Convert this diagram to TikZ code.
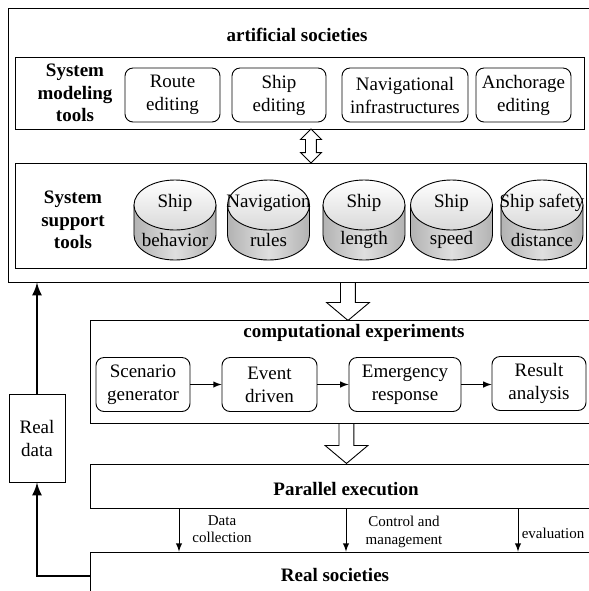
\documentclass[tikz,border=0pt]{standalone}
\usepackage{fontspec}
\setmainfont{Liberation Serif}
\usetikzlibrary{positioning}
\usetikzlibrary{shapes.arrows}

\begin{document}
\begin{tikzpicture}[x = 0.5pt, y = -0.5pt, line width = 0.45pt,
	box/.style = {draw, rectangle, inner sep = 0pt},
	tool/.style = {draw, rounded corners = 4pt, align = center, inner sep = 0pt, minimum height = 27pt, font = \fontsize{9.5}{11.5}\selectfont},
	heading/.style = {font = \fontsize{9.5}{11.25}\selectfont\bfseries, align = center},
	cyltext/.style = {font = \fontsize{9.5}{11.5}\selectfont, inner sep = 0pt},
	small/.style = {font = \fontsize{7.5}{8.75}\selectfont, align = center, inner sep = 0pt},
	fatarrow/.style = {single arrow, draw, fill = white, rotate = -90, anchor = tail, inner xsep = 0pt, inner ysep = 3.5pt, single arrow head extend = 7pt, single arrow tip angle = 100},
	thickarrow/.style = {line width = 1.2pt, -latex}]

	\useasboundingbox (0, 0) rectangle (589, 591);
	\clip (0, 0) rectangle (589, 591);

	% artificial societies
	\node [box, minimum width = 296pt, minimum height = 137pt] (art) at (304, 145) {};
	\node [heading] (arttitle) at (297, 35) {artificial societies};

	\node [box, minimum width = 284.5pt, minimum height = 36pt] (model) at (299.5, 93) {};
	\node [heading] (modeltitle) at (75, 93) {System\\modeling\\tools};
	\node [tool, minimum width = 47.5pt] (route) at (172.5, 95) {Route\\editing};
	\node [tool, minimum width = 47pt] (shipedit) at (279, 95) {Ship\\editing};
	\node [tool, minimum width = 63pt] (navinf) at (405, 95) {Navigational\\infrastructures};
	\node [tool, minimum width = 47.5pt] (anchor) at (523.5, 95) {Anchorage\\editing};

	\node [double arrow, draw, fill = white, rotate = 90, inner xsep = 0pt, inner ysep = 2.5pt, minimum height = 17pt, double arrow head extend = 2.5pt] (link) at (311, 146) {};

	\node [box, minimum width = 285.5pt, minimum height = 52.5pt] (support) at (300.5, 215.5) {};
	\node [heading] (supporttitle) at (73, 220) {System\\support\\tools};

	\foreach \cx/\nm/\ta/\tb in {175/beh/Ship/behavior, 268.5/rules/Navigation/rules, 364/len/Ship/length, 451.5/spd/Ship/speed, 542/safe/Ship safety/distance} {
		\draw [left color = gray!60, right color = gray!60, middle color = gray!25] ({\cx - 41}, 205) -- ({\cx - 41}, 235) arc [start angle = 180, end angle = 360, x radius = 20.5pt, y radius = 12.5pt] -- ({\cx + 41}, 205) -- cycle;
		\draw [top color = white, bottom color = gray!30] (\cx, 205) ellipse [x radius = 20.5pt, y radius = 12.5pt];
		\node [cyltext] (\nm-top) at (\cx, 203) {\ta};
		\node [cyltext] (\nm-bot) at (\cx, 240) {\tb};
	}

	\node [fatarrow, minimum height = 19pt] (down1) at (348, 282) {};

	% computational experiments
	\node [box, minimum width = 255pt, minimum height = 51.5pt] (comp) at (345, 371.5) {};
	\node [heading] (comptitle) at (354, 333) {computational experiments};
	\node [tool, minimum width = 47pt] (scen) at (143, 384.5) {Scenario\\generator};
	\node [tool, minimum width = 47.5pt] (event) at (269.5, 384.5) {Event\\driven};
	\node [tool, minimum width = 56pt] (emerg) at (405, 384.5) {Emergency\\response};
	\node [tool, minimum width = 47pt] (result) at (539, 383.5) {Result\\analysis};
	\draw [-latex] (scen) -- (event);
	\draw [-latex] (event) -- (emerg);
	\draw [-latex] (emerg) -- (result.west |- emerg);

	\node [fatarrow, minimum height = 20pt] (down2) at (346.5, 423) {};

	% parallel execution and real societies
	\node [box, minimum width = 255pt, minimum height = 22pt] (par) at (345, 486) {};
	\node [heading] (partitle) at (346, 489) {Parallel execution};
	\node [box, minimum width = 255pt, minimum height = 24pt] (real) at (345, 576) {};
	\node [heading] (realtitle) at (335, 575) {Real societies};

	\coordinate (dcol) at (179, 508);
	\coordinate (ctrl) at (346, 508);
	\coordinate (eval) at (518, 508);
	\draw [-latex] (dcol) -- (dcol |- real.north);
	\draw [-latex] (ctrl) -- (ctrl |- real.north);
	\draw [-latex] (eval) -- (eval |- real.north);
	\node [small] (dcollabel) at (222, 529) {Data\\collection};
	\node [small] (ctrllabel) at (404, 532) {Control and\\management};
	\node [small] (evallabel) at (553, 533) {evaluation};

	% real data feedback
	\node [box, minimum width = 28pt, minimum height = 44pt, align = center, font = \fontsize{9.5}{11.5}\selectfont] (rdata) at (37, 438) {Real\\data};
	\draw [thickarrow] (real.west) -| (rdata.south);
	\draw [thickarrow] (rdata.north) -- (rdata.north |- art.south);
\end{tikzpicture}
\end{document}
